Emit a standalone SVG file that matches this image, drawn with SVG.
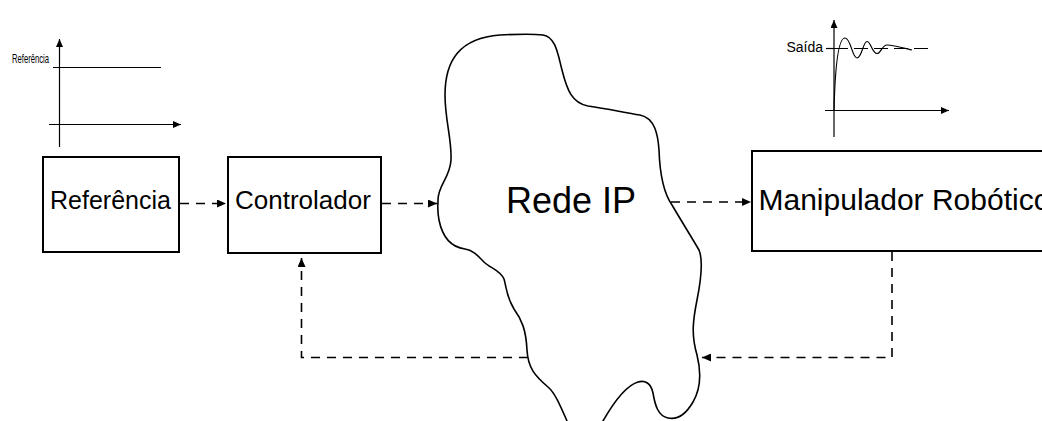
<svg xmlns="http://www.w3.org/2000/svg" width="1042" height="421" viewBox="0 0 1042 421">
  <style>
    text { font-family: "Liberation Sans", Arial, sans-serif; fill: #000; }
    .box { fill: #fff; stroke: #000; stroke-width: 2; }
    .cloud { fill: #fff; stroke: #000; stroke-width: 1.6; }
    .link { fill: none; stroke: #000; stroke-width: 1.6; stroke-dasharray: 9 7; }
    .axis { fill: none; stroke: #000; stroke-width: 1.2; }
    .curve { fill: none; stroke: #000; stroke-width: 1.2; }
  </style>
  <defs>
    <marker id="head" markerUnits="userSpaceOnUse" markerWidth="9" markerHeight="8" refX="9" refY="4" orient="auto">
      <path d="M0,0 L9,4 L0,8 Z" fill="#000"/>
    </marker>
    <marker id="axisHead" markerUnits="userSpaceOnUse" markerWidth="8" markerHeight="7" refX="8" refY="3.5" orient="auto">
      <path d="M0,0 L8,3.5 L0,7 Z" fill="#000"/>
    </marker>
  </defs>

  <!-- reference signal plot -->
  <g id="plot-referencia">
    <line class="axis" x1="59.5" y1="147" x2="59.5" y2="39" marker-end="url(#axisHead)"/>
    <line class="axis" x1="49" y1="124.5" x2="181" y2="124.5" marker-end="url(#axisHead)"/>
    <line class="axis" x1="53" y1="67.5" x2="161" y2="67.5"/>
    <text x="12" y="62.5" font-size="13" textLength="37" lengthAdjust="spacingAndGlyphs">Referência</text>
  </g>

  <!-- output response plot -->
  <g id="plot-saida">
    <line class="axis" x1="834" y1="137" x2="834" y2="20" marker-end="url(#axisHead)"/>
    <line class="axis" x1="825" y1="110.5" x2="949" y2="110.5" marker-end="url(#axisHead)"/>
    <line class="axis" x1="826" y1="48.5" x2="834" y2="48.5"/>
    <line class="axis" x1="834" y1="48.5" x2="930" y2="48.5" stroke-dasharray="14 6"/>
    <path class="curve" d="M834,110 C835,70 838,38 845,38 C851,38 852,58 857,58 C862,58 863,41.5 867,41.5 C871,41.5 872,53.5 877,53.5 C881,53.5 882,45 887,45 C893,45 900,47 912,50"/>
    <text x="786.5" y="52" font-size="14">Saída</text>
  </g>

  <!-- network cloud -->
  <g id="rede-ip">
    <path class="cloud" d="M438,200 C438,185 450,178 451,160 C452,140 445,120 445,95 C445,60 460,38 500,35 C520,34 535,34 543,35 C556,37 558,55 562,70 C567,90 572,103 588,106 C610,109 625,113 640,115 C655,118 658,135 659,150 C660,180 665,195 672,205 C682,222 692,238 699,250 C704,262 700,285 697,300 C693,320 691,335 697,355 C702,375 700,390 693,402 C686,414 677,420 668,418 C658,416 655,405 653,393 C651,383 645,380 638,382 C628,385 615,400 603,421 L600,430 L568,430 L567,421 C560,405 555,393 548,387 C535,376 528,368 527,350 C526,330 522,320 514,309 C506,296 506,285 504,279 C500,270 490,268 484,262 C478,256 473,250 465,249 C450,247 442,235 439,220 C437,210 438,205 438,200 Z"/>
    <text x="506" y="213" font-size="36">Rede IP</text>
  </g>

  <g id="referencia">
    <rect class="box" x="43" y="157" width="136" height="95"/>
    <text x="50" y="209" font-size="25">Referência</text>
  </g>

  <g id="controlador">
    <rect class="box" x="228" y="157" width="153" height="96"/>
    <text x="235" y="209" font-size="26">Controlador</text>
  </g>

  <g id="manipulador">
    <rect class="box" x="752" y="151" width="300" height="100"/>
    <text x="758.5" y="210" font-size="30">Manipulador Robótico</text>
  </g>

  <!-- signal flow -->
  <g id="connectors">
    <path class="link" d="M180,203.5 H226" marker-end="url(#head)"/>
    <path class="link" d="M382,203.5 H437" marker-end="url(#head)"/>
    <path class="link" d="M671,202 H751" marker-end="url(#head)"/>
    <path class="link" d="M892,252 V357.5 H702" marker-end="url(#head)"/>
    <path class="link" d="M528,357.5 H301.5 V258" marker-end="url(#head)"/>
  </g>
</svg>
